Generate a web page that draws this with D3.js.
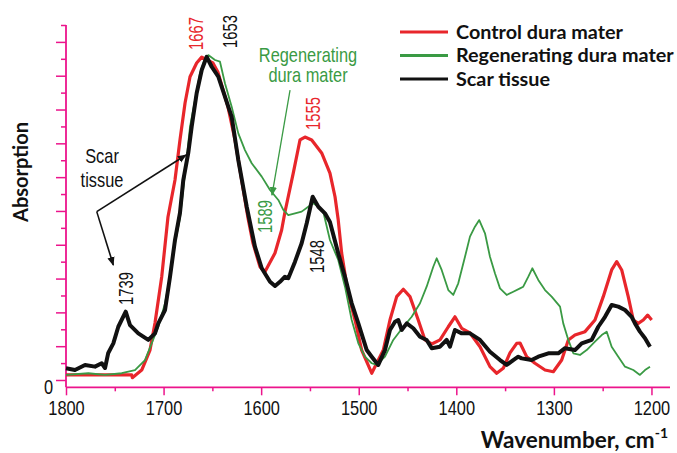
<!DOCTYPE html>
<html>
<head>
<meta charset="utf-8">
<script src="https://cdn.jsdelivr.net/npm/d3@7"></script>
<style>
  body { margin: 0; background: #fff; }
  .num { font-family: "Liberation Sans", Arial, sans-serif; }
  .bold { font-family: Lato, "Open Sans", sans-serif; font-weight: bold; }
</style>
</head>
<body>
<div id="chart"></div>
<script>
// Control dura mater (red)
var controlWn  = [1800, 1732.7, 1732, 1722.4, 1713.9, 1708.8, 1701.9, 1695.5, 1688.3, 1683.2, 1678, 1672.9, 1666.1, 1660.9, 1649.4, 1644.2, 1634, 1626.8, 1620, 1613.5, 1608.4, 1601.2, 1596.1, 1585.8, 1579, 1575.6, 1567.1, 1560.2, 1555.1, 1548.2, 1538, 1529.5, 1524.3, 1521, 1517.5, 1511, 1503.8, 1497, 1486.7, 1474.8, 1468, 1461.1, 1454.3, 1447.5, 1439, 1432.1, 1425.2, 1416.7, 1408.2, 1401.4, 1394.5, 1386, 1375.7, 1365.5, 1358.6, 1351.9, 1345, 1338.1, 1334.7, 1327.9, 1319.4, 1309.1, 1300.6, 1292, 1285.2, 1278.4, 1268.1, 1257.9, 1249.4, 1240.8, 1235.6, 1230.5, 1223.8, 1218.6, 1213.5, 1208.4, 1203.9, 1199.8];
var controlAbs = [0.30, 0.30, 0.14, 0.59, 1.77, 3.37, 6.11, 9.64, 11.83, 14.2, 16.39, 17.94, 18.75, 19.1, 18.75, 18.2, 16.15, 14.2, 11.83, 9.58, 8.10, 6.70, 6.41, 7.51, 8.87, 9.94, 12.24, 14.2, 14.37, 14.2, 13.43, 12.24, 10.84, 9.46, 7.51, 5.15, 3.55, 1.77, 0.40, 1.77, 3.55, 4.93, 5.37, 4.93, 3.55, 2.37, 2.13, 2.37, 3.15, 3.74, 3.06, 2.78, 1.97, 0.79, 0.40, 0.69, 1.60, 2.17, 2.19, 1.38, 0.99, 0.59, 0.49, 1.18, 2.37, 2.66, 2.86, 3.55, 4.93, 6.51, 7.0, 6.51, 4.93, 3.55, 3.35, 3.55, 3.84, 3.55];

// Regenerating dura mater (green)
var regenWn  = [1800, 1777.1, 1760, 1742.9, 1729.3, 1719, 1712.2, 1705.4, 1698.5, 1693.4, 1688.3, 1683.2, 1678, 1672.9, 1667.8, 1662.7, 1657.6, 1654.2, 1647.3, 1642.2, 1637.1, 1630.2, 1623.4, 1616.6, 1609.7, 1599.4, 1590.9, 1582.4, 1577.3, 1572.2, 1565.3, 1558.5, 1551.7, 1546.6, 1541.4, 1536.3, 1529.5, 1521, 1514.1, 1507.2, 1500.4, 1493.6, 1486.7, 1481.6, 1473.1, 1464.6, 1454.3, 1445.7, 1437.2, 1430.4, 1423.6, 1420.1, 1415, 1408.2, 1403.1, 1398, 1391.1, 1386, 1380.9, 1376.5, 1370.6, 1365.5, 1360.4, 1355.2, 1348.4, 1341.6, 1334.7, 1331.4, 1326.2, 1322.1, 1316, 1309.1, 1302.3, 1293.7, 1290.4, 1285.2, 1280.1, 1273.3, 1266.4, 1257.9, 1251, 1245.9, 1240.8, 1234, 1227.1, 1218.6, 1211.8, 1206.6, 1201.5];
var regenAbs = [0.30, 0.40, 0.30, 0.40, 0.59, 1.18, 2.17, 3.15, 4.54, 6.11, 8.09, 9.58, 12.23, 14.98, 16.56, 18.14, 19.03, 19.22, 18.93, 18.83, 17.55, 16.17, 14.59, 13.6, 12.82, 12.03, 11.24, 10.65, 10.06, 9.76, 9.86, 9.96, 10.25, 10.45, 10.25, 9.94, 8.28, 7.10, 5.52, 3.55, 2.17, 1.38, 0.99, 0.89, 1.38, 2.37, 3.15, 3.74, 4.54, 5.52, 6.70, 7.20, 6.51, 5.32, 5.03, 5.72, 7.29, 8.48, 9.07, 9.46, 8.68, 7.29, 6.31, 5.42, 5.03, 5.22, 5.42, 5.52, 6.11, 6.61, 5.92, 5.32, 4.93, 4.34, 3.35, 2.37, 1.58, 1.48, 1.77, 2.27, 2.66, 2.86, 1.97, 1.38, 0.79, 0.59, 0.30, 0.59, 0.79];

// Scar tissue (black)
var scarWn  = [1800, 1790.8, 1780.5, 1770.3, 1763.4, 1760, 1756.7, 1751.5, 1746.4, 1738.8, 1734.4, 1725.9, 1715.7, 1708.8, 1705.4, 1698.5, 1693.4, 1688.3, 1683.2, 1679.8, 1674.7, 1671.2, 1666.1, 1660.9, 1655.8, 1650.7, 1643.9, 1630.2, 1623.4, 1614.8, 1606.3, 1599.4, 1590.9, 1585.8, 1580.7, 1575.6, 1572.2, 1565.3, 1558.5, 1553.3, 1547.2, 1541.4, 1534.6, 1529.5, 1521, 1514.1, 1507.2, 1500.4, 1491.8, 1486.7, 1480, 1473.1, 1468, 1462.8, 1459.5, 1456, 1450.8, 1444.1, 1437.2, 1430.4, 1425.2, 1416.7, 1409.9, 1406.5, 1401.4, 1394.5, 1386, 1375.7, 1365.5, 1355.2, 1348.4, 1341.6, 1336.5, 1333, 1322.8, 1316, 1305.7, 1295.5, 1288.6, 1278.4, 1271.5, 1261.3, 1254.5, 1247.6, 1240.8, 1234, 1227.1, 1220.3, 1216.9, 1211.8, 1206.6, 1201.5];
var scarAbs = [0.69, 0.59, 0.89, 0.79, 0.99, 0.71, 1.60, 2.17, 3.15, 4.04, 3.25, 2.76, 2.37, 2.76, 3.35, 4.14, 6.11, 8.28, 9.88, 11.83, 13.43, 14.98, 16.96, 18.34, 19.12, 18.53, 17.94, 15.57, 13.01, 10.25, 7.88, 6.61, 5.81, 5.56, 5.81, 6.11, 6.02, 7.0, 8.09, 9.27, 10.84, 10.25, 9.86, 9.35, 7.49, 6.11, 4.54, 3.35, 1.77, 1.38, 0.89, 1.77, 2.96, 3.45, 3.55, 2.96, 3.35, 3.06, 2.56, 2.37, 1.88, 1.97, 2.37, 1.97, 2.96, 2.76, 2.76, 2.37, 1.67, 1.18, 0.89, 1.18, 1.38, 1.28, 1.18, 1.38, 1.58, 1.58, 1.88, 1.77, 2.17, 2.37, 3.15, 3.74, 4.44, 4.34, 4.14, 3.74, 3.35, 2.86, 2.47, 1.97];

var xTicks = d3.range(1800, 1199, -50);
var yTicks = d3.range(0, 22);
var legendLabels = ["Control dura mater", "Regenerating dura mater", "Scar tissue"];

// peak labels: text, wavenumber, absorption where the label starts
var peakText = ["1667", "1653", "1555", "1589", "1548", "1739"];
var peakWn   = [1666.8, 1631.9, 1546.9, 1596.1, 1542.8, 1738.5];
var peakAbs  = [19.52, 19.64, 14.79, 8.70, 6.33, 4.44];
var peakSeries = [0, 2, 0, 1, 2, 2];

var colors = ["#e8262b", "#3a9a44", "#111111"];
var widths = [3.2, 1.8, 4];
var narrow = 0.82; // condensed look of the original labels

var svgWidth = 677;
var svgHeight = 453;

var svg = d3.select("#chart")
    .append("svg")
    .attr("width", svgWidth)
    .attr("height", svgHeight);

var x = d3.scaleLinear().domain([1800, 1181]).range([66, 670]);
var y = d3.scaleLinear().domain([0, 21]).range([380, 25]);
var axisY = 387.3;
var pink = "#ec148c";

// y axis
var leftAxis = d3.axisLeft(y).tickValues(yTicks).tickSize(10)
    .tickFormat(d => d === 0 ? "0" : "");
var gy = svg.append("g")
    .attr("transform", "translate(66,0)")
    .call(leftAxis);
gy.select(".domain").remove();
gy.selectAll(".tick line")
    .attr("stroke", pink).attr("stroke-width", 1.5)
    .attr("x2", d => d % 2 === 0 ? -10 : -5);
gy.selectAll(".tick text")
    .attr("class", "num")
    .attr("font-size", 20)
    .attr("fill", "#111")
    .attr("x", 0)
    .attr("dy", "0.66em")
    .attr("transform", `translate(-13,0) scale(${narrow},1)`);
svg.append("line")
    .attr("x1", 66).attr("x2", 66)
    .attr("y1", y(21)).attr("y2", axisY)
    .attr("stroke", pink).attr("stroke-width", 1.8);

// x axis
var bottomAxis = d3.axisBottom(x).tickValues(xTicks).tickSize(8)
    .tickFormat(d => d % 100 === 0 ? d : "");
var gx = svg.append("g")
    .attr("transform", `translate(0,${axisY})`)
    .call(bottomAxis);
gx.select(".domain").remove();
gx.selectAll(".tick line")
    .attr("stroke", pink).attr("stroke-width", 1.5)
    .attr("y2", d => d % 100 === 0 ? 8 : 4);
gx.selectAll(".tick text")
    .attr("class", "num")
    .attr("font-size", 20)
    .attr("fill", "#111")
    .attr("y", 14)
    .attr("transform", `scale(${narrow},1)`);
svg.append("line")
    .attr("x1", 66).attr("x2", 670)
    .attr("y1", axisY).attr("y2", axisY)
    .attr("stroke", pink).attr("stroke-width", 1.8);

// spectra
var line = d3.line()
    .x(d => x(d[0]))
    .y(d => y(d[1]));

var series = [
    d3.zip(controlWn, controlAbs),
    d3.zip(regenWn, regenAbs),
    d3.zip(scarWn, scarAbs)
];
[0, 1, 2].forEach(function (i) {
    svg.append("path")
        .datum(series[i])
        .attr("fill", "none")
        .attr("stroke", colors[i])
        .attr("stroke-width", widths[i])
        .attr("stroke-linejoin", "round")
        .attr("d", line);
});

// peak labels
peakText.forEach(function (t, i) {
    svg.append("text")
        .attr("class", "num")
        .attr("font-size", 20)
        .attr("fill", colors[peakSeries[i]])
        .attr("transform", `translate(${x(peakWn[i])},${y(peakAbs[i])}) rotate(-90) scale(0.74,1)`)
        .attr("dy", "0.36em")
        .text(t);
});

// arrow markers
var defs = svg.append("defs");
function marker(id, col) {
    defs.append("marker")
        .attr("id", id)
        .attr("viewBox", "0 0 10 10")
        .attr("refX", 9).attr("refY", 5)
        .attr("markerWidth", 9).attr("markerHeight", 9)
        .attr("markerUnits", "userSpaceOnUse")
        .attr("orient", "auto")
        .append("path")
        .attr("d", "M0,1 L10,5 L0,9 Z")
        .attr("fill", col);
}
marker("arrowGreen", colors[1]);
marker("arrowBlack", "#111");

function narrowText(wn, ab, col, txt) {
    svg.append("text").attr("class", "num").attr("font-size", 20)
        .attr("fill", col).attr("text-anchor", "middle")
        .attr("transform", `translate(${x(wn)},${y(ab)}) scale(${narrow},1)`)
        .text(txt);
}

// regenerating annotation
narrowText(1552, 18.8, colors[1], "Regenerating");
narrowText(1552, 17.6, colors[1], "dura mater");
svg.append("line")
    .attr("x1", x(1570.4)).attr("y1", y(17.15))
    .attr("x2", x(1588.9)).attr("y2", y(10.94))
    .attr("stroke", colors[1]).attr("stroke-width", 1.3)
    .attr("marker-end", "url(#arrowGreen)");

// scar tissue annotation
narrowText(1763.1, 12.84, "#111", "Scar");
narrowText(1763.1, 11.42, "#111", "tissue");
[[1677, 13.31], [1751.5, 6.80]].forEach(function (p) {
    svg.append("line")
        .attr("x1", x(1768.5)).attr("y1", y(9.96))
        .attr("x2", x(p[0])).attr("y2", y(p[1]))
        .attr("stroke", "#111").attr("stroke-width", 1.6)
        .attr("marker-end", "url(#arrowBlack)");
});

// legend
var legend = svg.append("g");
legendLabels.forEach(function (label, i) {
    var ly = 32 + i * 23.5;
    legend.append("line")
        .attr("x1", 400).attr("x2", 448)
        .attr("y1", ly).attr("y2", ly)
        .attr("stroke", colors[i]).attr("stroke-width", 3);
    legend.append("text")
        .attr("class", "bold")
        .attr("font-size", 19.8)
        .attr("fill", "#111")
        .attr("x", 456).attr("y", ly)
        .attr("dy", "0.35em")
        .text(label);
});

// axis titles
svg.append("text")
    .attr("class", "bold")
    .attr("font-size", 20)
    .attr("fill", "#111")
    .attr("text-anchor", "middle")
    .attr("transform", "translate(28,172) rotate(-90)")
    .text("Absorption");

var xt = svg.append("text")
    .attr("class", "bold")
    .attr("font-size", 22.5)
    .attr("fill", "#111")
    .attr("text-anchor", "end")
    .attr("x", 668).attr("y", 448);
xt.append("tspan").text("Wavenumber, cm");
xt.append("tspan").attr("font-size", 14).attr("dy", -10).text("-1");
</script>
</body>
</html>
